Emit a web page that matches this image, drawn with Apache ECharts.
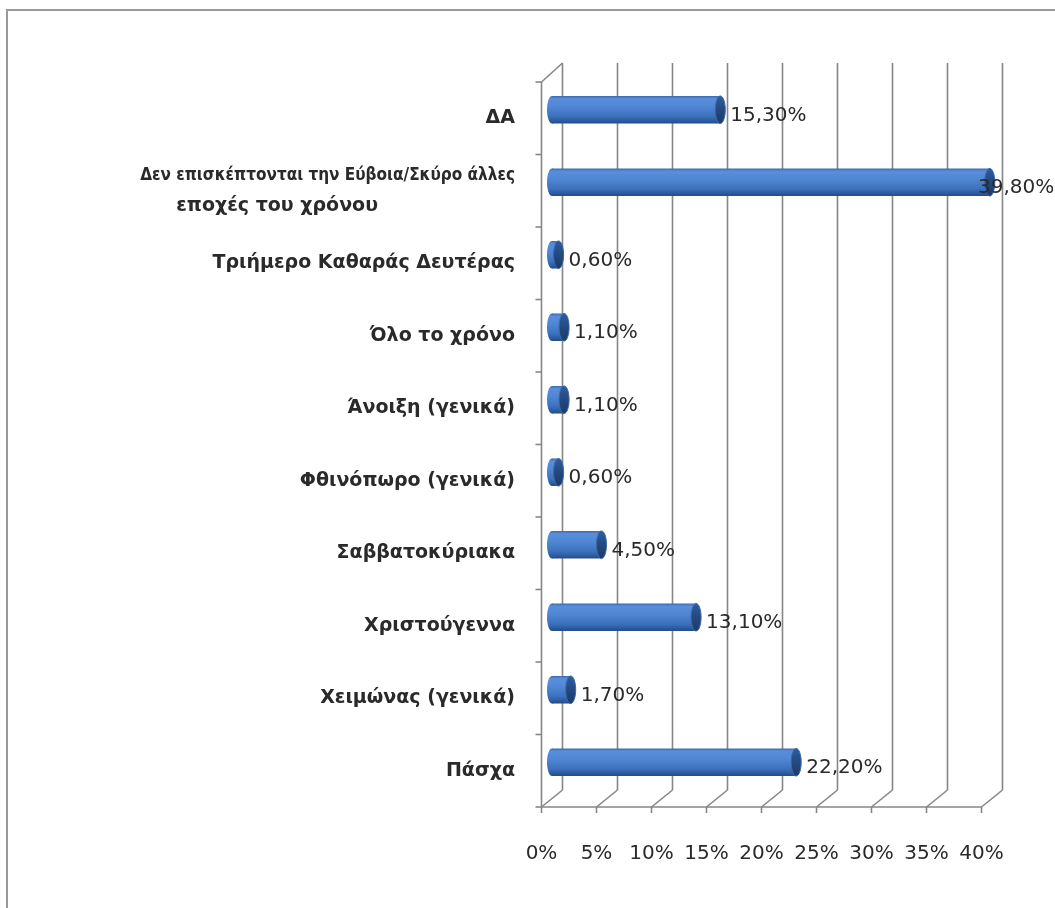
<!DOCTYPE html>
<html>
<head>
<meta charset="utf-8">
<script src="https://cdn.jsdelivr.net/npm/echarts@6/dist/echarts.min.js"></script>
<style>
  html, body { margin: 0; padding: 0; background: #ffffff; }
  #chart { width: 1055px; height: 908px; }
</style>
</head>
<body>
<div id="chart"></div>
<script>
// Periods when visitors come to Evia / Skyros (share of answers, %)
const categories = [
  'ΔΑ',
  'Δεν επισκέπτονται την Εύβοια/Σκύρο άλλες\nεποχές του χρόνου',
  'Τριήμερο Καθαράς Δευτέρας',
  'Όλο το χρόνο',
  'Άνοιξη (γενικά)',
  'Φθινόπωρο (γενικά)',
  'Σαββατοκύριακα',
  'Χριστούγεννα',
  'Χειμώνας (γενικά)',
  'Πάσχα'
];
const shares = [15.3, 39.8, 0.6, 1.1, 1.1, 0.6, 4.5, 13.1, 1.7, 22.2];
const valueTicks = [0, 5, 10, 15, 20, 25, 30, 35, 40];
const valueTickLabels = ['0%', '5%', '10%', '15%', '20%', '25%', '30%', '35%', '40%'];

// pseudo-3D depth: bars sit on the middle plane, walls behind, floor edge in front
const DX = 10.5;
const DY = 8.5;
const FONT = 'DejaVu Sans';
const FONT_NARROW = '"DejaVu Sans Condensed", "DejaVu Sans"';
const GRID_COLOR = '#868686';
const TEXT_COLOR = '#2a2a2a';

function seg(x1, y1, x2, y2) {
  return {
    type: 'line',
    shape: { x1: x1, y1: y1, x2: x2, y2: y2 },
    style: { stroke: GRID_COLOR, lineWidth: 1.6 }
  };
}

function renderFrame(params, api) {
  const cs = params.coordSys;
  const v = api.value(0);
  const xm = api.coord([v, 0])[0];
  const top = cs.y;
  const bottom = cs.y + cs.height;
  const backX = xm + DX;
  const backTop = top - DY - 2;
  const backBottom = bottom - DY;
  const frontX = xm - DX;
  const frontY = bottom + DY;
  const children = [
    seg(backX, backTop, backX, backBottom),
    seg(frontX, frontY, backX, backBottom),
    seg(frontX, frontY, frontX, frontY + 6)
  ];
  if (params.dataIndex === 0) {
    const xEnd = api.coord([valueTicks[valueTicks.length - 1], 0])[0] - DX;
    children.push(seg(frontX, frontY, xEnd, frontY));
    children.push(seg(frontX, top + DY, frontX, frontY));
    children.push(seg(frontX, top + DY, backX, backTop));
    const band = cs.height / categories.length;
    for (let k = 0; k <= categories.length; k++) {
      const y = top + DY + k * band;
      children.push(seg(frontX - 6, y, frontX, y));
    }
  }
  return { type: 'group', children: children };
}

function fmtPct(v) {
  return v.toFixed(2).replace('.', ',') + '%';
}

function renderBar(params, api) {
  const cs = params.coordSys;
  const c = api.value(0);
  const v = api.value(1);
  const p0 = api.coord([0, c]);
  const p1 = api.coord([v, c]);
  const h = api.size([0, 1])[1] * 0.38;
  const rx = 5;
  const cy = p0[1];
  const y0 = cy - h / 2;
  const body = new echarts.graphic.LinearGradient(0, 0, 0, 1, [
    { offset: 0, color: '#3a6ab0' },
    { offset: 0.1, color: '#5a8edb' },
    { offset: 0.4, color: '#4f86d3' },
    { offset: 0.75, color: '#3c70bb' },
    { offset: 1, color: '#224c8a' }
  ]);
  const cap = new echarts.graphic.LinearGradient(0, 0, 0, 1, [
    { offset: 0, color: '#2f5e9f' },
    { offset: 0.5, color: '#24497f' },
    { offset: 1, color: '#1b3a68' }
  ]);
  const labelX = Math.min(p1[0] + rx + 5, cs.x + cs.width - 14);
  return {
    type: 'group',
    children: [
      {
        type: 'ellipse',
        shape: { cx: p0[0], cy: cy, rx: rx, ry: h / 2 },
        style: { fill: body }
      },
      {
        type: 'rect',
        shape: { x: p0[0], y: y0, width: Math.max(0, p1[0] - p0[0]), height: h },
        style: { fill: body }
      },
      {
        type: 'ellipse',
        shape: { cx: p1[0], cy: cy, rx: rx, ry: h / 2 },
        style: { fill: cap, stroke: '#3a69a8', lineWidth: 1 }
      },
      {
        type: 'text',
        z2: 10,
        style: {
          x: labelX,
          y: cy + 6,
          text: fmtPct(v),
          fill: TEXT_COLOR,
          font: '20px "' + FONT + '"',
          textAlign: 'left',
          textVerticalAlign: 'middle'
        }
      }
    ]
  };
}

const chart = echarts.init(document.getElementById('chart'), null, { renderer: 'canvas' });

chart.setOption({
  animation: false,
  backgroundColor: '#ffffff',
  graphic: [
    {
      type: 'rect',
      shape: { x: 7, y: 10, width: 1060, height: 910 },
      style: { fill: null, stroke: '#9a9a9a', lineWidth: 2 },
      silent: true
    }
  ],
  grid: { left: 552, right: 63, top: 73.5, bottom: 109.5 },
  xAxis: {
    type: 'value',
    min: 0,
    max: 40,
    interval: 5,
    axisLine: { show: false },
    axisTick: { show: false },
    splitLine: { show: false },
    axisLabel: {
      margin: 45,
      padding: [0, 2 * DX, 0, 0],
      color: TEXT_COLOR,
      fontFamily: FONT,
      fontSize: 20,
      formatter: function (v) {
        const i = valueTicks.indexOf(v);
        return i >= 0 ? valueTickLabels[i] : '';
      }
    }
  },
  yAxis: {
    type: 'category',
    data: categories,
    inverse: true,
    axisLine: { show: false },
    axisTick: { show: false },
    splitLine: { show: false },
    axisLabel: {
      margin: 37,
      padding: [2 * DY, 0, 0, 0],
      color: TEXT_COLOR,
      fontFamily: FONT,
      fontSize: 19,
      fontWeight: 'bold',
      lineHeight: 30,
      align: 'right',
      formatter: function (val) {
        const lines = val.split('\n');
        if (lines.length > 1) {
          return '{a|' + lines[0] + '}\n{b|' + lines[1] + '}';
        }
        return val;
      },
      rich: {
        a: { fontFamily: FONT_NARROW, fontSize: 17, fontWeight: 'bold', color: TEXT_COLOR, lineHeight: 30 },
        b: { fontFamily: FONT, fontSize: 19, fontWeight: 'bold', color: TEXT_COLOR, lineHeight: 30, padding: [0, 137, 0, 0] }
      }
    }
  },
  series: [
    {
      type: 'custom',
      name: 'frame',
      silent: true,
      z: 1,
      renderItem: renderFrame,
      encode: { x: 0, y: 1 },
      data: valueTicks.map(function (v) { return [v, 0]; })
    },
    {
      type: 'custom',
      name: 'shares',
      z: 5,
      renderItem: renderBar,
      encode: { x: 1, y: 0 },
      data: shares.map(function (v, i) { return [i, v]; })
    }
  ]
});
</script>
</body>
</html>
